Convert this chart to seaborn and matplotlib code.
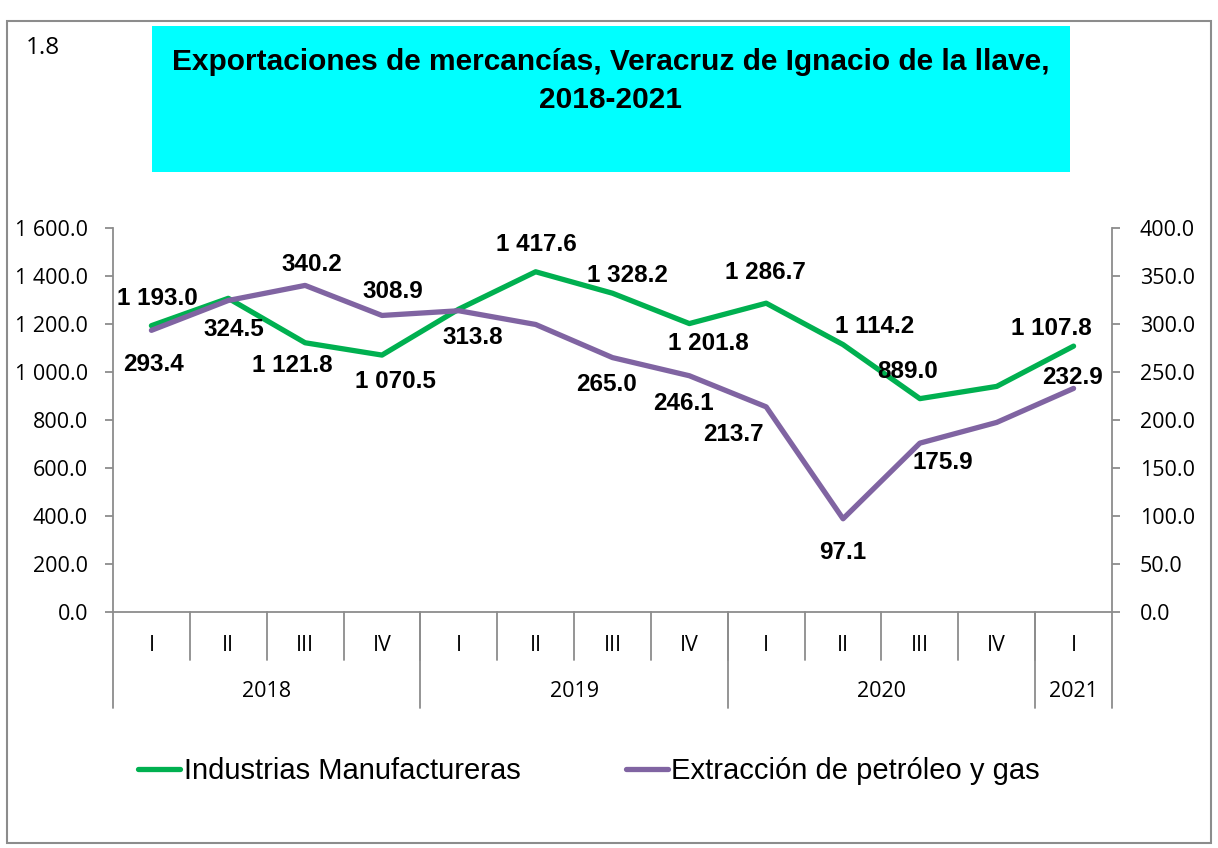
import matplotlib
matplotlib.use("Agg")
import matplotlib.pyplot as plt
import matplotlib.transforms as mtransforms
from matplotlib.patches import Rectangle
from matplotlib.ticker import FuncFormatter
import numpy as np
import pandas as pd
import seaborn as sns

# data
quarters = ["I", "II", "III", "IV", "I", "II", "III", "IV", "I", "II", "III", "IV", "I"]
years = ["2018", "2019", "2020", "2021"]
year_len = [4, 4, 4, 1]
manufacturas = [1193.0, 1307.0, 1121.8, 1070.5, 1262.0, 1417.6, 1328.2, 1201.8,
                1286.7, 1114.2, 889.0, 940.0, 1107.8]
petroleo = [293.4, 324.5, 340.2, 308.9, 313.8, 299.5, 265.0, 246.1,
            213.7, 97.1, 175.9, 197.5, 232.9]
name_manuf = "Industrias Manufactureras"
name_petro = "Extracción de petróleo y gas"
title = "Exportaciones de mercancías, Veracruz de Ignacio de la llave,\n2018-2021"

# label offsets in pixels (None = no label)
off_manuf = [(6, 27), None, (-13, -23), (13, -26), None, (1, 27), (15, 18), (19, -20),
             (-1, 31), (32, 18), (-12, 27), None, (-22, 18)]
off_petro = [(2, -34), (6, -29), (7, 21), (11, 24), (14, -27), None, (-6, -27), (-6, -28),
             (-33, -28), (0, -34), (23, -19), None, (-1, 11)]

GREEN = "#00B050"
PURPLE = "#8064A2"
GRAY = "#8C8C8C"

sns.set_style("white")
plt.rcParams["font.family"] = ["Open Sans", "DejaVu Sans"]
plt.rcParams["text.color"] = "black"
plt.rcParams["axes.labelcolor"] = "black"
plt.rcParams["xtick.color"] = "black"
plt.rcParams["ytick.color"] = "black"
ARIAL = ["Liberation Sans", "DejaVu Sans"]

W, H = 1218, 848
fig = plt.figure(figsize=(W / 100, H / 100), dpi=100)

# outer frame and title box
fig.patches.append(Rectangle((7 / W, 1 - 843 / H), (1211 - 7) / W, (843 - 21) / H,
                             transform=fig.transFigure, fill=False, edgecolor=GRAY, lw=1.5))
fig.patches.append(Rectangle((152 / W, 1 - 172 / H), (1070 - 152) / W, (172 - 26) / H,
                             transform=fig.transFigure, facecolor="#00FFFF", edgecolor="none"))
fig.text(611 / W, 1 - 81 / H, title, ha="center", va="center", fontsize=21.5,
         fontweight="bold", family=ARIAL, linespacing=1.45)
fig.text(43 / W, 1 - 48 / H, "1.8", ha="center", va="center", fontsize=17.5)

ax = fig.add_axes([113 / W, 1 - 612 / H, (1112 - 113) / W, 384 / H])
ax2 = ax.twinx()

df = pd.DataFrame({"pos": np.arange(len(quarters)), "manuf": manufacturas, "petro": petroleo})
sns.lineplot(data=df, x="pos", y="manuf", ax=ax, color=GREEN, lw=3.8, label=name_manuf,
             legend=False, sort=False)
sns.lineplot(data=df, x="pos", y="petro", ax=ax2, color=PURPLE, lw=3.8, label=name_petro,
             legend=False, sort=False)

def fmt(v):
    return f"{v:,.1f}".replace(",", " ")

for axis, vals, offs in [(ax, manufacturas, off_manuf), (ax2, petroleo, off_petro)]:
    for i, (v, o) in enumerate(zip(vals, offs)):
        if o is None:
            continue
        axis.annotate(fmt(v), (i, v), xytext=o, textcoords="offset pixels", ha="center",
                      va="center", fontsize=17.5, fontweight="bold", family=ARIAL,
                      annotation_clip=False)

# two-level category axis
trans = mtransforms.blended_transform_factory(ax.transData, ax.transAxes)
for i, q in enumerate(quarters):
    ax.text(i, -0.086, q, transform=trans, ha="center", va="center", fontsize=15.5)
for k in range(len(quarters) - 1):
    ax.plot([k + 0.5, k + 0.5], [0, -0.125], transform=trans, clip_on=False, color=GRAY, lw=1.3)
start = 0
bounds = [-0.5]
for y, n in zip(years, year_len):
    ax.text(start + (n - 1) / 2, -0.208, y, transform=trans, ha="center", va="center",
            fontsize=15.5)
    start += n
    bounds.append(start - 0.5)
for b in bounds:
    ax.plot([b, b], [0, -0.25], transform=trans, clip_on=False, color=GRAY, lw=1.3)

ax.set_xlim(-0.5, len(quarters) - 0.5)
ax.set_ylim(0, 1600)
ax2.set_ylim(0, 400)
ax.set_yticks(np.arange(0, 1601, 200))
ax2.set_yticks(np.arange(0, 401, 50))
ax.set_xticks([])
ax.set_xlabel("")
ax.set_ylabel("")
ax2.set_ylabel("")
ax.yaxis.set_major_formatter(FuncFormatter(lambda v, p: fmt(v)))
ax2.yaxis.set_major_formatter(FuncFormatter(lambda v, p: fmt(v)))
ax.tick_params(axis="y", direction="out", length=6, width=1.3, color=GRAY, pad=12,
               labelsize=15.5, left=True)
ax2.tick_params(axis="y", direction="out", length=6, width=1.3, color=GRAY, pad=14,
                labelsize=15.5, right=True)

for a in (ax, ax2):
    a.spines["top"].set_visible(False)
    for s in ("left", "right", "bottom"):
        a.spines[s].set_color(GRAY)
        a.spines[s].set_linewidth(1.3)
ax.spines["right"].set_visible(False)
ax2.spines["left"].set_visible(False)
ax2.spines["bottom"].set_visible(False)

handles = ax.get_lines()[:1] + ax2.get_lines()[:1]
fig.legend(handles, [name_manuf, name_petro], loc="center", ncol=2,
           bbox_to_anchor=(589 / W, 1 - 771 / H), frameon=False,
           prop={"family": ARIAL, "size": 21}, handlelength=1.45, handletextpad=0.12,
           columnspacing=3.6)

fig.savefig("out.png", dpi=100)
